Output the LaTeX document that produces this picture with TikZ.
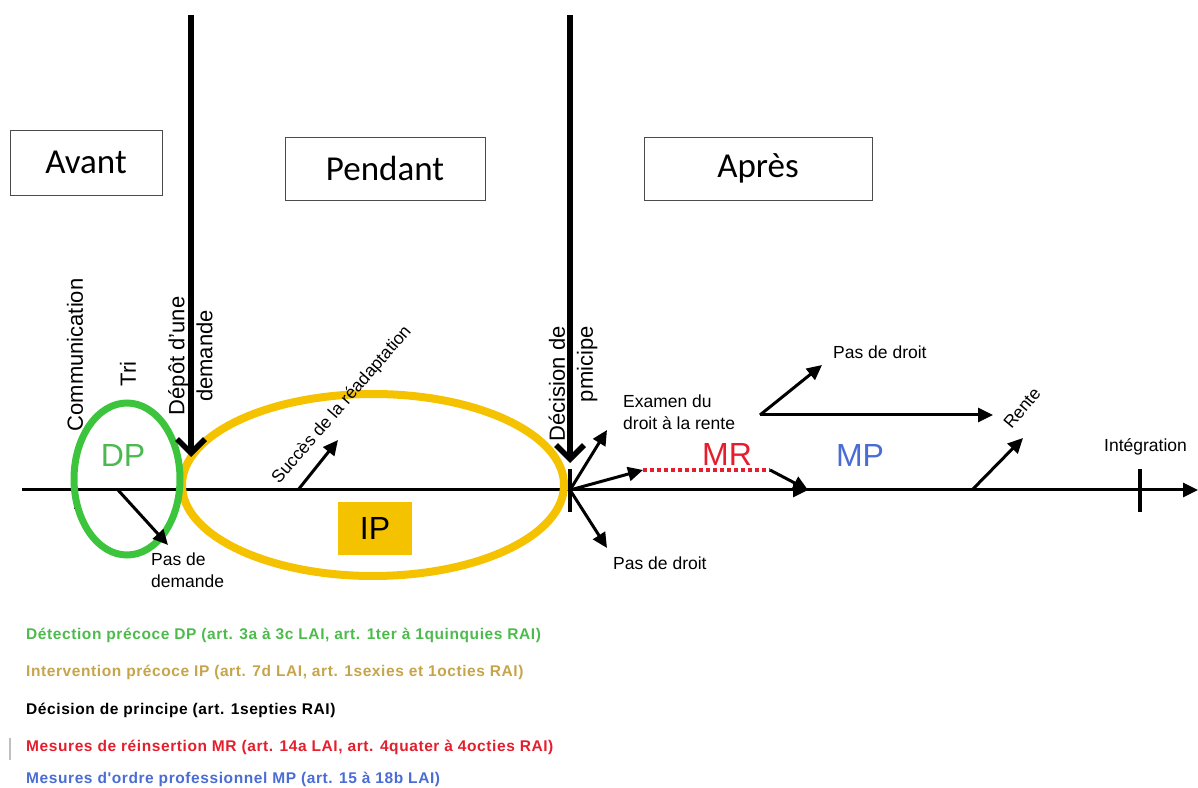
\documentclass[tikz,border=0pt]{standalone}
\usepackage{fontspec}
\setmainfont{Liberation Sans}
\newfontfamily\boxfont{Carlito}
\newfontfamily\legfont[LetterSpace=3.8]{Liberation Sans}
\usetikzlibrary{arrows.meta}
\definecolor{dpgreen}{HTML}{3CC43C}
\definecolor{dptext}{HTML}{4CB850}
\definecolor{ipyellow}{HTML}{F5C200}
\definecolor{lggreen}{HTML}{4CBB4C}
\definecolor{lggold}{HTML}{C6A44A}
\definecolor{mrred}{HTML}{E41E2C}
\definecolor{mpblue}{HTML}{4A6CD4}
\tikzset{
  phase/.style={draw=black!70, line width=0.8pt, inner sep=0pt, font=\boxfont\fontsize{35}{40}\selectfont},
  lbl/.style={font=\fontsize{17.5}{22}\selectfont, inner sep=0pt},
  bigl/.style={font=\fontsize{32}{36}\selectfont, inner sep=0pt},
  rotl/.style={font=\fontsize{22}{28}\selectfont, rotate=90, inner sep=0pt},
  legend/.style={anchor=west, font=\legfont\bfseries\fontsize{15.5}{18}\selectfont, inner sep=0pt},
  arr/.style={line width=3pt, -{Triangle[length=15pt,width=14pt]}},
  bigarr/.style={line width=5.5pt, -{Straight Barb[length=14pt,width=28pt]}},
  plain/.style={line width=3pt}
}
\begin{document}
\begin{tikzpicture}[x=1pt,y=1pt]
\useasboundingbox (0,0) rectangle (1198,787);
% phase boxes
\node[phase, minimum width=152pt, minimum height=65pt] (avant) at (86,624.5) {Avant};
\node[phase, minimum width=200pt, minimum height=63pt] (pendant) at (385,618.5) {Pendant};
\node[phase, minimum width=228pt, minimum height=63pt] (apres) at (758,618.5) {Après};
% coordinates
\coordinate (lstart) at (22,297);
\coordinate (lend) at (1198,297);
\coordinate (d1top) at (191,772);
\coordinate (d1tip) at (191,330);
\coordinate (d2top) at (570,772);
\coordinate (d2tip) at (570,324);
\coordinate (dec) at (570,297);
\coordinate (dectopt) at (570,318);
\coordinate (decbot) at (570,275);
\coordinate (ctick1) at (75,297);
\coordinate (ctick2) at (75,278);
\coordinate (pdstart) at (118,297);
\coordinate (pdtip) at (168,242);
\coordinate (sucstart) at (298,297);
\coordinate (suctip) at (338,347);
\coordinate (examtip) at (607,357);
\coordinate (mrstart) at (643,317);
\coordinate (mrend) at (770,317);
\coordinate (mpstart) at (808,297);
\coordinate (pdrtip) at (607,239);
\coordinate (branch) at (760,372);
\coordinate (pdrtoptip) at (822,422);
\coordinate (rentetip) at (993,372);
\coordinate (r2start) at (972,297);
\coordinate (r2tip) at (1023,349);
\coordinate (itop) at (1140,318);
\coordinate (ibot) at (1140,275);
\coordinate (gray1) at (10,49);
\coordinate (gray2) at (10,27);
% main time line
\draw[plain, -{Triangle[length=15pt,width=14pt]}] (lstart) -- (lend);
\draw[line width=2pt] (ctick1) -- (ctick2);
% ellipses
\draw[ipyellow, line width=8pt] (373,302) ellipse [x radius=191pt, y radius=91pt];
\draw[dpgreen, line width=7pt] (127,308) ellipse [x radius=53pt, y radius=76pt];
% big arrows
\draw[bigarr] (d1top) -- (d1tip);
\draw[bigarr] (d2top) -- (d2tip);
% ticks
\draw[line width=4pt] (dectopt) -- (decbot);
\draw[line width=4pt] (itop) -- (ibot);
% small arrows
\draw[arr] (pdstart) -- (pdtip);
\draw[arr] (sucstart) -- (suctip);
\draw[arr] (dec) -- (examtip);
\draw[arr] (dec) -- (mrstart);
\draw[arr] (dec) -- (mpstart);
\draw[arr] (dec) -- (pdrtip);
\draw[mrred, line width=4pt, dash pattern=on 4pt off 3pt] (mrstart) -- (mrend);
\draw[arr] (mrend) -- (mpstart);
\draw[arr] (branch) -- (pdrtoptip);
\draw[arr] (branch) -- (rentetip);
\draw[arr] (r2start) -- (r2tip);
% labels in ellipses
\node[bigl, text=dptext] (dp) at (123,332) {DP};
\node[bigl, fill=ipyellow, minimum width=74pt, minimum height=53pt] (ip) at (375,258.5) {IP};
\node[bigl, text=mrred] (mr) at (727,333) {MR};
\node[bigl, text=mpblue] (mp) at (860,332) {MP};
% rotated labels
\node[rotl] (comm) at (75,432) {Communication};
\node[rotl] (tri) at (128,413) {Tri};
\node[rotl, align=center] (depot) at (190.5,431) {Dépôt d'une\\demande};
\node[rotl, align=right, anchor=east] (decision) at (573,461) {Décision de\\pmicipe};
\node[lbl, rotate=49] (succes) at (342,382) {Succès de la réadaptation};
\node[lbl, rotate=50] (rente) at (1022,379) {Rente};
% other labels
\node[lbl, anchor=north west, align=left] (pasdem) at (151,234) {Pas de\\demande};
\node[lbl, anchor=west] (pdr) at (613,224) {Pas de droit};
\node[lbl, anchor=north west, align=left] (examen) at (623,392) {Examen du\\droit à la rente};
\node[lbl, anchor=west] (pdrtop) at (833,435) {Pas de droit};
\node[lbl, anchor=west] (integ) at (1104,340) {Intégration};
% legend
\node[legend, text=lggreen] (l1) at (26,152) {Détection précoce DP (art. 3a à 3c LAI, art. 1ter à 1quinquies RAI)};
\node[legend, text=lggold] (l2) at (26,115) {Intervention précoce IP (art. 7d LAI, art. 1sexies et 1octies RAI)};
\node[legend, text=black] (l3) at (26,77) {Décision de principe (art. 1septies RAI)};
\node[legend, text=mrred] (l4) at (26,40) {Mesures de réinsertion MR (art. 14a LAI, art. 4quater à 4octies RAI)};
\node[legend, text=mpblue] (l5) at (26,8) {Mesures d'ordre professionnel MP (art. 15 à 18b LAI)};
\draw[black!25, line width=1.5pt] (gray1) -- (gray2);
\end{tikzpicture}
\end{document}
